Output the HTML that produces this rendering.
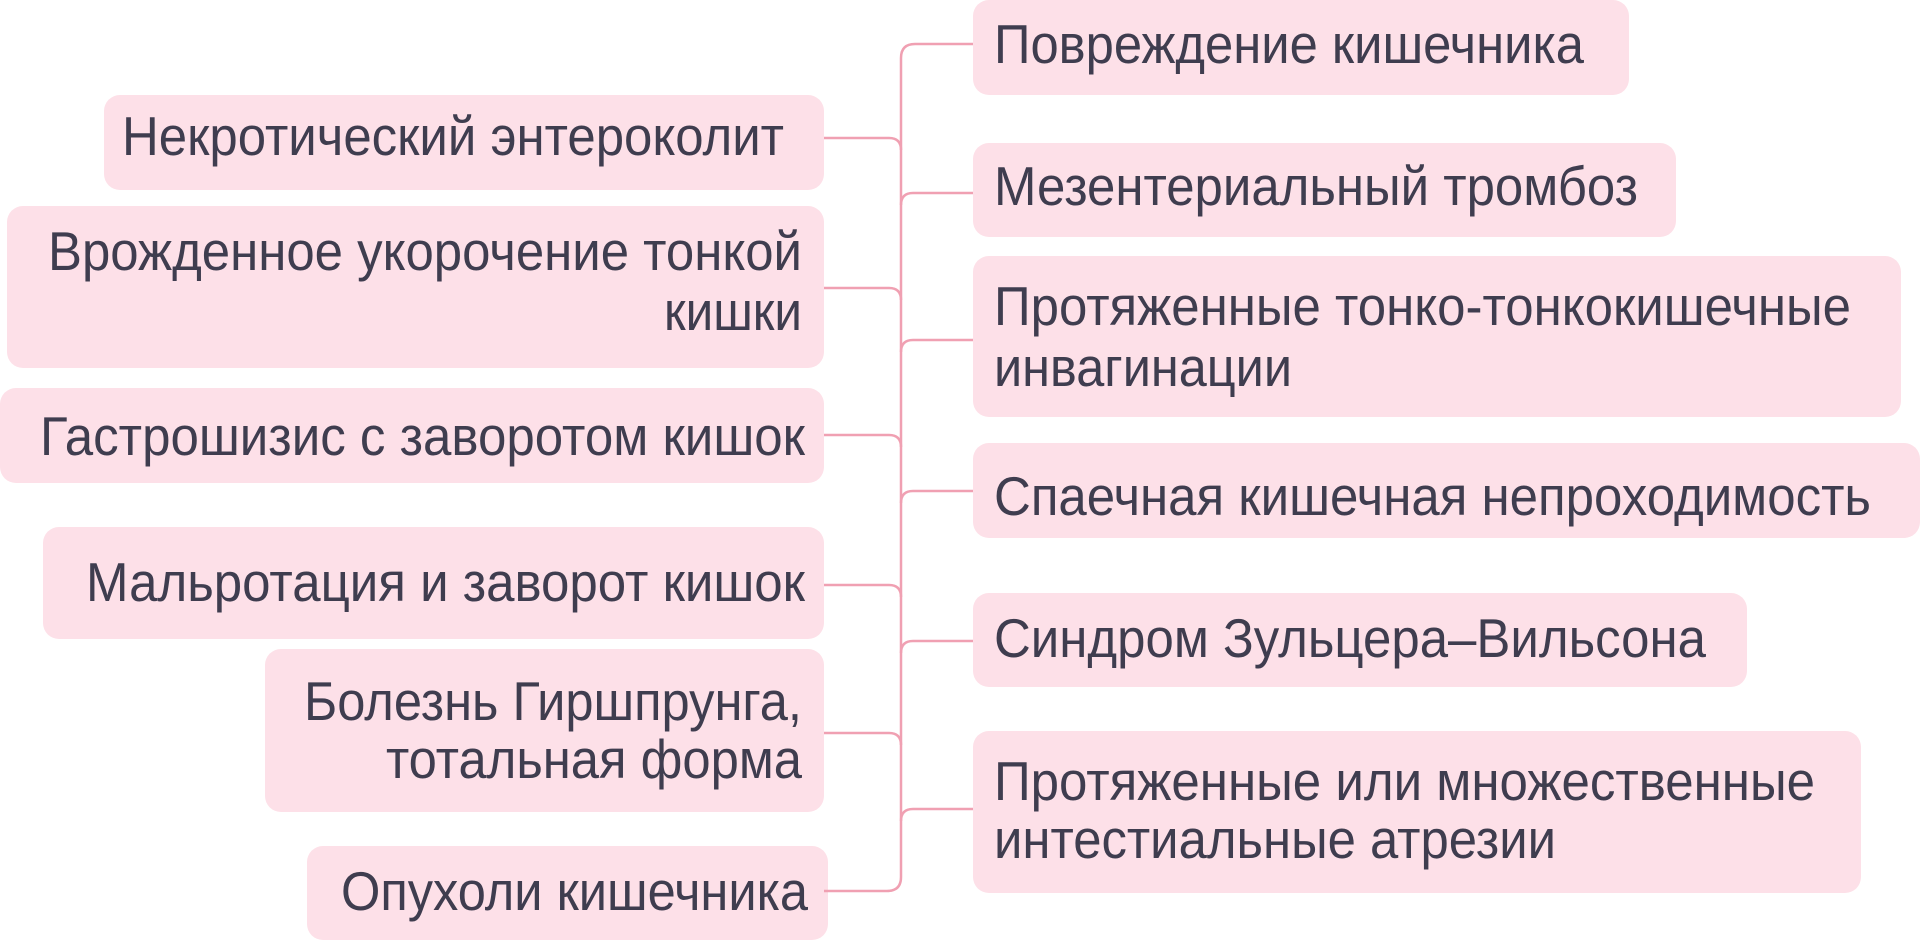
<!DOCTYPE html>
<html><head><meta charset="utf-8"><style>
html,body{margin:0;padding:0;background:#fff;width:1920px;height:941px;overflow:hidden}
svg text{font-family:"Liberation Sans",Arial,sans-serif;font-size:55px;fill:#3f3d4f}
</style></head><body>
<svg width="1920" height="941" viewBox="0 0 1920 941" xmlns="http://www.w3.org/2000/svg">
<g fill="#fde0e8">
<rect x="104" y="95" width="720" height="95" rx="16"/>
<rect x="7" y="206" width="817" height="162" rx="16"/>
<rect x="0" y="388" width="824" height="95" rx="16"/>
<rect x="43" y="527" width="781" height="112" rx="16"/>
<rect x="265" y="649" width="559" height="163" rx="16"/>
<rect x="307" y="846" width="521" height="94" rx="16"/>
<rect x="973" y="0" width="656" height="95" rx="16"/>
<rect x="973" y="143" width="703" height="94" rx="16"/>
<rect x="973" y="256" width="928" height="161" rx="16"/>
<rect x="973" y="443" width="947" height="95" rx="16"/>
<rect x="973" y="593" width="774" height="94" rx="16"/>
<rect x="973" y="731" width="888" height="162" rx="16"/>
</g>
<g fill="none" stroke="#f0a0b2" stroke-width="2.5">
<path d="M973,44 H915 Q901,44 901,58 V877 Q901,891 887,891 H824"/>
<path d="M824,138 H889 Q901,138 901,150"/>
<path d="M824,288 H889 Q901,288 901,300"/>
<path d="M824,435 H889 Q901,435 901,447"/>
<path d="M824,585 H889 Q901,585 901,597"/>
<path d="M824,733 H889 Q901,733 901,745"/>
<path d="M973,193 H913 Q901,193 901,205"/>
<path d="M973,340 H913 Q901,340 901,352"/>
<path d="M973,491 H913 Q901,491 901,503"/>
<path d="M973,641 H913 Q901,641 901,653"/>
<path d="M973,809 H913 Q901,809 901,821"/>
</g>
<g text-anchor="end">
<text x="784" y="155" textLength="662" lengthAdjust="spacingAndGlyphs">Некротический энтероколит</text>
<text x="802" y="270" textLength="754" lengthAdjust="spacingAndGlyphs">Врожденное укорочение тонкой</text>
<text x="802" y="330" textLength="138" lengthAdjust="spacingAndGlyphs">кишки</text>
<text x="805" y="455" textLength="765" lengthAdjust="spacingAndGlyphs">Гастрошизис с заворотом кишок</text>
<text x="805" y="601" textLength="719" lengthAdjust="spacingAndGlyphs">Мальротация и заворот кишок</text>
<text x="802" y="720" textLength="498" lengthAdjust="spacingAndGlyphs">Болезнь Гиршпрунга,</text>
<text x="802" y="778" textLength="416" lengthAdjust="spacingAndGlyphs">тотальная форма</text>
<text x="808" y="910" textLength="467" lengthAdjust="spacingAndGlyphs">Опухоли кишечника</text>
</g>
<g>
<text x="994" y="63" textLength="590" lengthAdjust="spacingAndGlyphs">Повреждение кишечника</text>
<text x="994" y="205" textLength="644" lengthAdjust="spacingAndGlyphs">Мезентериальный тромбоз</text>
<text x="994" y="325" textLength="857" lengthAdjust="spacingAndGlyphs">Протяженные тонко-тонкокишечные</text>
<text x="994" y="386" textLength="298" lengthAdjust="spacingAndGlyphs">инвагинации</text>
<text x="994" y="515" textLength="877" lengthAdjust="spacingAndGlyphs">Спаечная кишечная непроходимость</text>
<text x="994" y="657" textLength="712" lengthAdjust="spacingAndGlyphs">Синдром Зульцера–Вильсона</text>
<text x="994" y="800" textLength="821" lengthAdjust="spacingAndGlyphs">Протяженные или множественные</text>
<text x="994" y="858" textLength="562" lengthAdjust="spacingAndGlyphs">интестиальные атрезии</text>
</g>
</svg>
</body></html>
